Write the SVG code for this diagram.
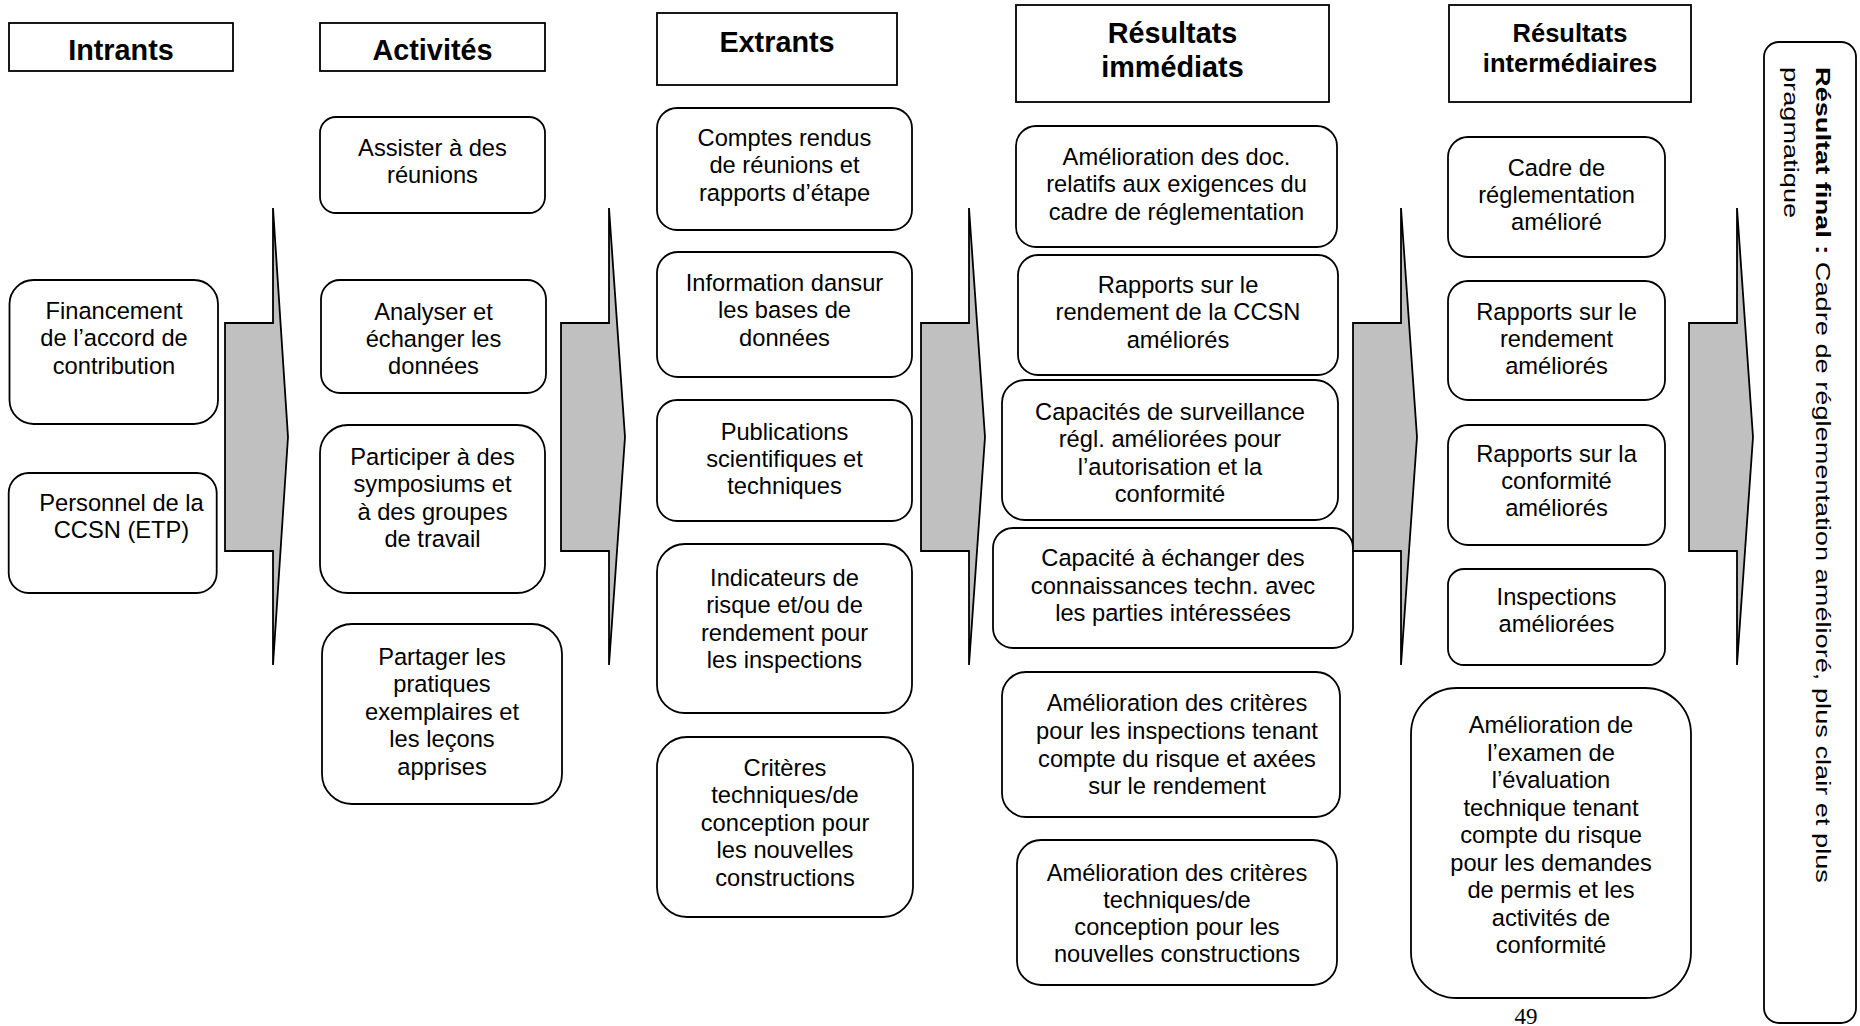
<svg xmlns="http://www.w3.org/2000/svg" width="1860" height="1026" viewBox="0 0 1860 1026">
<style>
.bg{fill:#fff}
.box{fill:#fff;stroke:#000;stroke-width:1.8}
.t{font-family:"Liberation Sans",Arial,sans-serif;font-size:23.7px;text-anchor:middle;fill:#000}
.h{font-family:"Liberation Sans",Arial,sans-serif;font-weight:bold;font-size:28.8px;text-anchor:middle;fill:#000}
.h2{font-size:25.5px}
.arrow{fill:#c0c0c0;stroke:#000;stroke-width:1.8;stroke-linejoin:miter}
.fin{font-family:"Liberation Sans",Arial,sans-serif;font-size:20px;fill:#000}
.pg{font-family:"Liberation Serif","Times New Roman",serif;font-size:23px;text-anchor:middle;fill:#000}
</style>
<rect class="bg" x="0" y="0" width="1860" height="1026"/>

<g id="headers">
<g id="h-intrants"><rect class="box" x="9" y="23" width="224" height="48"/><text class="h" x="121" y="60">Intrants</text></g>
<g id="h-activites"><rect class="box" x="320" y="23" width="225" height="48"/><text class="h" x="432.5" y="60">Activités</text></g>
<g id="h-extrants"><rect class="box" x="657" y="13" width="240" height="72"/><text class="h" x="777" y="52">Extrants</text></g>
<g id="h-immediats"><rect class="box" x="1016" y="5" width="313" height="97"/><text class="h" x="1172.5" y="43">Résultats</text><text class="h" x="1172.5" y="77">immédiats</text></g>
<g id="h-intermediaires"><rect class="box" x="1449" y="5" width="242" height="97"/><text class="h h2" x="1570" y="42">Résultats</text><text class="h h2" x="1570" y="72">intermédiaires</text></g>
</g>

<g id="nodes">
<g id="n-financement"><rect class="box" x="9.5" y="280" width="208.5" height="144" rx="24"/>
<text class="t"><tspan x="114" y="319">Financement</tspan><tspan x="114" y="346.4">de l’accord de</tspan><tspan x="114" y="373.8">contribution</tspan></text></g>
<g id="n-personnel"><rect class="box" x="8.7" y="473" width="208" height="120" rx="20"/>
<text class="t"><tspan x="121.5" y="511">Personnel de la</tspan><tspan x="121.5" y="538">CCSN (ETP)</tspan></text></g>

<g id="n-assister"><rect class="box" x="320" y="117" width="225" height="96" rx="16"/>
<text class="t"><tspan x="432.5" y="156">Assister à des</tspan><tspan x="432.5" y="183">réunions</tspan></text></g>
<g id="n-analyser"><rect class="box" x="321" y="280" width="225" height="113" rx="19"/>
<text class="t"><tspan x="433.5" y="320">Analyser et</tspan><tspan x="433.5" y="347">échanger les</tspan><tspan x="433.5" y="374">données</tspan></text></g>
<g id="n-participer"><rect class="box" x="320" y="425" width="225" height="168" rx="28"/>
<text class="t"><tspan x="432.5" y="465">Participer à des</tspan><tspan x="432.5" y="492">symposiums et</tspan><tspan x="432.5" y="520">à des groupes</tspan><tspan x="432.5" y="547">de travail</tspan></text></g>
<g id="n-partager"><rect class="box" x="322" y="624" width="240" height="180" rx="30"/>
<text class="t"><tspan x="442" y="665">Partager les</tspan><tspan x="442" y="692">pratiques</tspan><tspan x="442" y="720">exemplaires et</tspan><tspan x="442" y="747">les leçons</tspan><tspan x="442" y="775">apprises</tspan></text></g>

<g id="n-comptes"><rect class="box" x="657" y="108" width="255" height="122" rx="20"/>
<text class="t"><tspan x="784.5" y="146">Comptes rendus</tspan><tspan x="784.5" y="173">de réunions et</tspan><tspan x="784.5" y="201">rapports d’étape</tspan></text></g>
<g id="n-information"><rect class="box" x="657" y="252" width="255" height="125" rx="21"/>
<text class="t"><tspan x="784.5" y="291">Information dansur</tspan><tspan x="784.5" y="318">les bases de</tspan><tspan x="784.5" y="346">données</tspan></text></g>
<g id="n-publications"><rect class="box" x="657" y="400" width="255" height="121" rx="20"/>
<text class="t"><tspan x="784.5" y="440">Publications</tspan><tspan x="784.5" y="467">scientifiques et</tspan><tspan x="784.5" y="494">techniques</tspan></text></g>
<g id="n-indicateurs"><rect class="box" x="657" y="544" width="255" height="169" rx="28"/>
<text class="t"><tspan x="784.5" y="586">Indicateurs de</tspan><tspan x="784.5" y="613">risque et/ou de</tspan><tspan x="784.5" y="641">rendement pour</tspan><tspan x="784.5" y="668">les inspections</tspan></text></g>
<g id="n-criteres"><rect class="box" x="657" y="737" width="256" height="180" rx="30"/>
<text class="t"><tspan x="785" y="776">Critères</tspan><tspan x="785" y="803">techniques/de</tspan><tspan x="785" y="831">conception pour</tspan><tspan x="785" y="858">les nouvelles</tspan><tspan x="785" y="886">constructions</tspan></text></g>

<g id="n-amel-doc"><rect class="box" x="1016" y="126" width="321" height="121" rx="20"/>
<text class="t"><tspan x="1176.5" y="165">Amélioration des doc.</tspan><tspan x="1176.5" y="192">relatifs aux exigences du</tspan><tspan x="1176.5" y="220">cadre de réglementation</tspan></text></g>
<g id="n-rapports-ccsn"><rect class="box" x="1018" y="255" width="320" height="120" rx="20"/>
<text class="t"><tspan x="1178" y="293">Rapports sur le</tspan><tspan x="1178" y="320">rendement de la CCSN</tspan><tspan x="1178" y="348">améliorés</tspan></text></g>
<g id="n-surveillance"><rect class="box" x="1002" y="380" width="336" height="140" rx="23"/>
<text class="t"><tspan x="1170" y="420">Capacités de surveillance</tspan><tspan x="1170" y="447">régl. améliorées pour</tspan><tspan x="1170" y="475">l’autorisation et la</tspan><tspan x="1170" y="502">conformité</tspan></text></g>
<g id="n-echanger"><rect class="box" x="993" y="528" width="360" height="120" rx="20"/>
<text class="t"><tspan x="1173" y="566">Capacité à échanger des</tspan><tspan x="1173" y="594">connaissances techn. avec</tspan><tspan x="1173" y="621">les parties intéressées</tspan></text></g>
<g id="n-amel-insp"><rect class="box" x="1002" y="672" width="338" height="145" rx="24"/>
<text class="t"><tspan x="1177" y="711">Amélioration des critères</tspan><tspan x="1177" y="739">pour les inspections tenant</tspan><tspan x="1177" y="767">compte du risque et axées</tspan><tspan x="1177" y="794">sur le rendement</tspan></text></g>
<g id="n-amel-tech"><rect class="box" x="1017" y="840" width="320" height="145" rx="24"/>
<text class="t"><tspan x="1177" y="881">Amélioration des critères</tspan><tspan x="1177" y="908">techniques/de</tspan><tspan x="1177" y="935">conception pour les</tspan><tspan x="1177" y="962">nouvelles constructions</tspan></text></g>

<g id="n-cadre"><rect class="box" x="1448" y="137" width="217" height="120" rx="20"/>
<text class="t"><tspan x="1556.5" y="176">Cadre de</tspan><tspan x="1556.5" y="203">réglementation</tspan><tspan x="1556.5" y="230">amélioré</tspan></text></g>
<g id="n-rapports-rend"><rect class="box" x="1448" y="281" width="217" height="119" rx="20"/>
<text class="t"><tspan x="1556.5" y="320">Rapports sur le</tspan><tspan x="1556.5" y="347">rendement</tspan><tspan x="1556.5" y="374">améliorés</tspan></text></g>
<g id="n-rapports-conf"><rect class="box" x="1448" y="425" width="217" height="120" rx="20"/>
<text class="t"><tspan x="1556.5" y="462">Rapports sur la</tspan><tspan x="1556.5" y="489">conformité</tspan><tspan x="1556.5" y="516">améliorés</tspan></text></g>
<g id="n-inspections"><rect class="box" x="1448" y="569" width="217" height="96" rx="16"/>
<text class="t"><tspan x="1556.5" y="605">Inspections</tspan><tspan x="1556.5" y="632">améliorées</tspan></text></g>
<g id="n-examen"><rect class="box" x="1411" y="688" width="280" height="310" rx="46"/>
<text class="t"><tspan x="1551" y="733">Amélioration de</tspan><tspan x="1551" y="760.5">l’examen de</tspan><tspan x="1551" y="788">l’évaluation</tspan><tspan x="1551" y="815.5">technique tenant</tspan><tspan x="1551" y="843">compte du risque</tspan><tspan x="1551" y="870.5">pour les demandes</tspan><tspan x="1551" y="898">de permis et les</tspan><tspan x="1551" y="925.5">activités de</tspan><tspan x="1551" y="953">conformité</tspan></text></g>

<g id="n-final"><rect class="box" x="1764" y="42" width="92" height="981" rx="15"/>
<text class="fin" transform="translate(1816,67) rotate(90) scale(1.36,1)"><tspan font-weight="bold">Résultat final :</tspan> Cadre de réglementation amélioré, plus clair et plus</text>
<text class="fin" transform="translate(1784,67) rotate(90) scale(1.36,1)">pragmatique</text></g>
</g>

<g id="connectors">
<polygon class="arrow" points="225,323 273,323 273,208 288,437 273,665 273,551 225,551"/>
<polygon class="arrow" points="561,323 609,323 609,208 625,437 609,665 609,551 561,551"/>
<polygon class="arrow" points="921,323 969,323 969,208 985,437 969,665 969,551 921,551"/>
<polygon class="arrow" points="1353,323 1401,323 1401,208 1417,437 1401,665 1401,551 1353,551"/>
<polygon class="arrow" points="1689,323 1737,323 1737,208 1753,437 1737,665 1737,551 1689,551"/>
</g>

<text class="pg" x="1526" y="1024">49</text>
</svg>
